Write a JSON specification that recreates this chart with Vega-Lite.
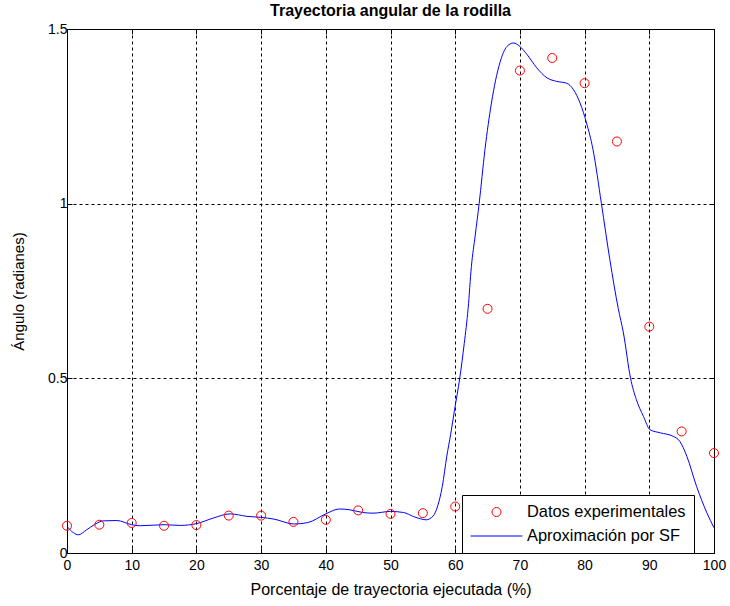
{
  "$schema": "https://vega.github.io/schema/vega-lite/v6.json",
  "width": 647,
  "height": 524,
  "autosize": {"type": "none"},
  "padding": {"left": 67, "top": 29, "right": 16, "bottom": 53},
  "background": "white",
  "title": {
    "text": "Trayectoria angular de la rodilla",
    "font": "Liberation Sans",
    "fontSize": 16,
    "fontWeight": "bold",
    "color": "black",
    "anchor": "middle",
    "offset": 3
  },
  "config": {
    "view": {"stroke": "black", "strokeWidth": 1},
    "axis": {
      "domainColor": "black",
      "tickColor": "black",
      "tickSize": -5,
      "labelFont": "Liberation Sans",
      "labelFontSize": 14,
      "labelColor": "black",
      "titleFont": "Liberation Sans",
      "titleFontWeight": "normal",
      "titleColor": "black",
      "gridColor": "black",
      "gridDash": [3, 3],
      "gridOpacity": 1,
      "gridWidth": 1
    }
  },
  "datasets": {
    "puntos": [
      {"x": 0, "y": 0.078}, {"x": 5, "y": 0.081}, {"x": 10, "y": 0.086},
      {"x": 15, "y": 0.078}, {"x": 20, "y": 0.080}, {"x": 25, "y": 0.107},
      {"x": 30, "y": 0.107}, {"x": 35, "y": 0.089}, {"x": 40, "y": 0.095},
      {"x": 45, "y": 0.122}, {"x": 50, "y": 0.112}, {"x": 55, "y": 0.114},
      {"x": 60, "y": 0.133}, {"x": 65, "y": 0.699}, {"x": 70, "y": 1.381},
      {"x": 75, "y": 1.417}, {"x": 80, "y": 1.345}, {"x": 85, "y": 1.178},
      {"x": 90, "y": 0.648}, {"x": 95, "y": 0.348}, {"x": 100, "y": 0.286}
    ],
    "curva": [
      {"x": 0, "y": 0.076}, {"x": 1, "y": 0.058}, {"x": 1.75, "y": 0.052},
      {"x": 3.0, "y": 0.066}, {"x": 4.3, "y": 0.082}, {"x": 5.6, "y": 0.092},
      {"x": 7.7, "y": 0.093}, {"x": 10, "y": 0.081}, {"x": 11.3, "y": 0.078},
      {"x": 15, "y": 0.081}, {"x": 17.5, "y": 0.079}, {"x": 20, "y": 0.084},
      {"x": 22.6, "y": 0.100}, {"x": 25.2, "y": 0.112}, {"x": 27.8, "y": 0.105},
      {"x": 30, "y": 0.102}, {"x": 32, "y": 0.097}, {"x": 35.1, "y": 0.083},
      {"x": 37.2, "y": 0.087}, {"x": 40, "y": 0.112}, {"x": 42.1, "y": 0.126},
      {"x": 43.6, "y": 0.124}, {"x": 45.7, "y": 0.116}, {"x": 47.3, "y": 0.114},
      {"x": 50, "y": 0.119}, {"x": 52, "y": 0.116}, {"x": 53.6, "y": 0.104},
      {"x": 54.6, "y": 0.098}, {"x": 55.5, "y": 0.095}, {"x": 56.6, "y": 0.106},
      {"x": 57.3, "y": 0.135}, {"x": 58.0, "y": 0.19}, {"x": 58.7, "y": 0.277},
      {"x": 59.3, "y": 0.34}, {"x": 59.9, "y": 0.41}, {"x": 60.7, "y": 0.5},
      {"x": 61.4, "y": 0.6}, {"x": 62.0, "y": 0.70}, {"x": 62.5, "y": 0.82},
      {"x": 63.1, "y": 0.91}, {"x": 63.7, "y": 1.0}, {"x": 64.6, "y": 1.155},
      {"x": 65.6, "y": 1.288}, {"x": 66.9, "y": 1.403}, {"x": 68.0, "y": 1.450},
      {"x": 69.0, "y": 1.460}, {"x": 70.0, "y": 1.450}, {"x": 71.1, "y": 1.427},
      {"x": 72.6, "y": 1.389}, {"x": 74.2, "y": 1.360}, {"x": 75.7, "y": 1.350},
      {"x": 77.2, "y": 1.345}, {"x": 78.3, "y": 1.326}, {"x": 79.3, "y": 1.288},
      {"x": 80.3, "y": 1.231}, {"x": 81.3, "y": 1.155}, {"x": 82.6, "y": 1.0},
      {"x": 83.9, "y": 0.84}, {"x": 85.2, "y": 0.70}, {"x": 86.0, "y": 0.63},
      {"x": 87.1, "y": 0.5}, {"x": 88.0, "y": 0.439}, {"x": 89.1, "y": 0.391},
      {"x": 90.1, "y": 0.353}, {"x": 91.7, "y": 0.344}, {"x": 93.7, "y": 0.334},
      {"x": 94.7, "y": 0.320}, {"x": 95.8, "y": 0.277}, {"x": 97.3, "y": 0.191},
      {"x": 98.9, "y": 0.115}, {"x": 100, "y": 0.072}
    ]
  },
  "layer": [
    {
      "data": {"name": "curva"},
      "mark": {"type": "line", "strokeWidth": 1, "interpolate": "monotone", "clip": true},
      "encoding": {
        "x": {
          "field": "x", "type": "quantitative",
          "scale": {"domain": [0, 100], "nice": false, "zero": false},
          "axis": {
            "orient": "bottom",
            "values": [0, 10, 20, 30, 40, 50, 60, 70, 80, 90, 100],
            "grid": true,
            "labelPadding": 10,
            "labelFlush": false,
            "title": "Porcentaje de trayectoria ejecutada (%)",
            "titleFontSize": 16,
            "titlePadding": 9
          }
        },
        "y": {
          "field": "y", "type": "quantitative",
          "scale": {"domain": [0, 1.5], "nice": false, "zero": false},
          "axis": {
            "orient": "left",
            "values": [0, 0.5, 1, 1.5],
            "format": ".1~f",
            "grid": true,
            "labelPadding": 5,
            "labelFlush": false,
            "title": "Ángulo (radianes)",
            "titleFontSize": 15,
            "titlePadding": 21
          }
        },
        "color": {
          "datum": "Aproximación por SF",
          "type": "nominal",
          "scale": {
            "domain": ["Datos experimentales", "Aproximación por SF"],
            "range": ["#ff0000", "#0000ff"]
          },
          "legend": {
            "title": null,
            "orient": "none",
            "legendX": 395,
            "legendY": 466,
            "strokeColor": "black",
            "fillColor": "white",
            "padding": 8,
            "labelFont": "Liberation Sans",
            "labelFontSize": 16.4,
            "labelColor": "black",
            "labelOffset": 4,
            "symbolSize": 2700,
            "symbolStrokeWidth": 1,
            "clipHeight": 18,
            "rowPadding": 6,
            "encode": {
              "symbols": {
                "update": {
                  "shape": {"signal": "datum.value === 'Datos experimentales' ? 'circle' : 'stroke'"},
                  "size": {"signal": "datum.value === 'Datos experimentales' ? 81 : 2700"},
                  "fill": {"value": "transparent"},
                  "strokeWidth": {"value": 1},
                  "opacity": {"value": 1}
                }
              }
            }
          }
        }
      }
    },
    {
      "data": {"name": "puntos"},
      "mark": {"type": "point", "shape": "circle", "filled": false, "size": 81, "strokeWidth": 1, "opacity": 1},
      "encoding": {
        "x": {"field": "x", "type": "quantitative", "axis": null},
        "y": {"field": "y", "type": "quantitative", "axis": null},
        "color": {"datum": "Datos experimentales", "type": "nominal"}
      }
    },
    {
      "data": {"name": "puntos"},
      "mark": {"type": "point", "opacity": 0},
      "encoding": {
        "x": {
          "field": "x", "type": "quantitative",
          "axis": {"orient": "top", "values": [0, 10, 20, 30, 40, 50, 60, 70, 80, 90, 100], "labels": false, "title": null, "grid": false, "domain": false}
        },
        "y": {
          "field": "y", "type": "quantitative",
          "axis": {"orient": "right", "values": [0, 0.5, 1, 1.5], "labels": false, "title": null, "grid": false, "domain": false}
        }
      }
    }
  ],
  "resolve": {"axis": {"x": "independent", "y": "independent"}}
}
